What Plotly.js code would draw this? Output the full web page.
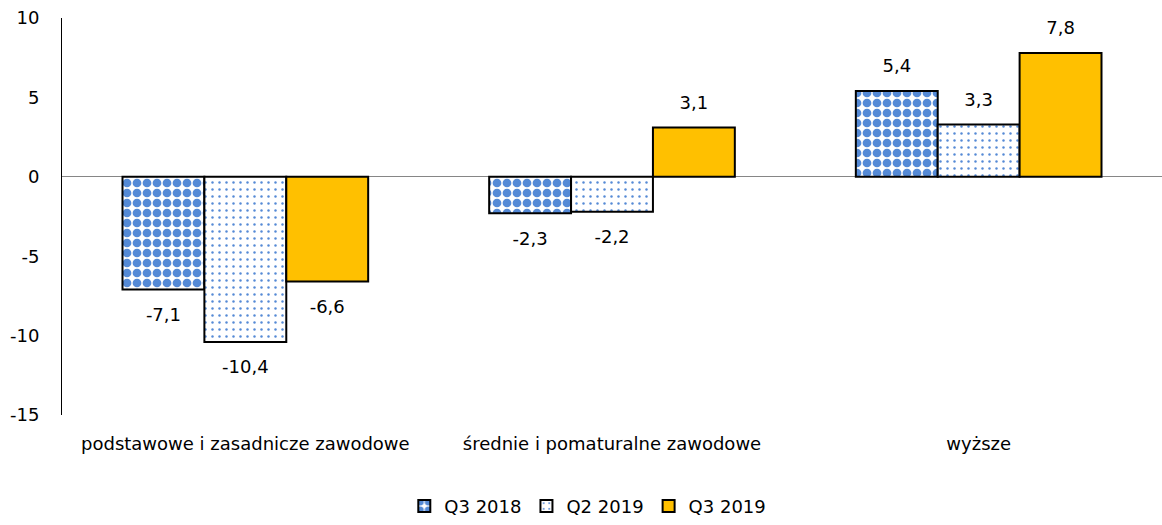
<!DOCTYPE html>
<html>
<head>
<meta charset="utf-8">
<script src="https://cdn.plot.ly/plotly-3.0.1.min.js"></script>
<style>html,body{margin:0;padding:0;background:#fff;}#chart{width:1162px;height:525px;}</style>
</head>
<body>
<div id="chart"></div>
<script>
const categories = ["podstawowe i zasadnicze zawodowe", "średnie i pomaturalne zawodowe", "wyższe"];
const seriesNames = ["Q3 2018", "Q2 2019", "Q3 2019"];
const q3_2018 = [-7.1, -2.3, 5.4];
const q2_2019 = [-10.4, -2.2, 3.3];
const q3_2019 = [-6.6, 3.1, 7.8];
const yTicks = [-15, -10, -5, 0, 5, 10];

const fontFam = "DejaVu Sans, Verdana, sans-serif";
const fmt = v => v.toFixed(1).replace('.', ',');
const line = {color: '#000', width: 2};
const blue = '#558ad6';

const seriesValues = [q3_2018, q2_2019, q3_2019];
const markers = [
  {color: '#ffffff', line: line,
    pattern: {shape: '.', fgcolor: blue, fgopacity: 1, bgcolor: '#ffffff', size: 10, solidity: 0.6, fillmode: 'replace'}},
  {color: '#ffffff', line: line,
    pattern: {shape: '.', fgcolor: blue, fgopacity: 1, bgcolor: '#ffffff', size: 7, solidity: 0.1, fillmode: 'replace'}},
  {color: '#ffc000', line: line}
];

const traces = [];
seriesValues.forEach((vals, i) => {
  traces.push({
    type: 'bar', name: seriesNames[i], x: categories, y: vals,
    marker: markers[i], hoverinfo: 'skip'
  });
});
// value labels, offset from bar ends through invisible markers
seriesValues.forEach((vals, i) => {
  traces.push({
    type: 'scatter', mode: 'markers+text', showlegend: false, hoverinfo: 'skip',
    x: categories, y: vals, cliponaxis: false,
    text: vals.map(fmt),
    textposition: vals.map(v => v >= 0 ? 'top center' : 'bottom center'),
    textfont: {family: fontFam, size: 18, color: '#000'},
    marker: {size: vals.map(v => v >= 0 ? 21 : 27), color: 'rgba(0,0,0,0)', line: {width: 0}}
  });
});

const layout = {
  width: 1162, height: 525,
  margin: {l: 62, r: 0, t: 18, b: 108},
  paper_bgcolor: '#fff', plot_bgcolor: '#fff',
  font: {family: fontFam, size: 18, color: '#000'},
  barmode: 'group', bargap: 0.33, bargroupgap: 0,
  scattermode: 'group', scattergap: 0.33,
  showlegend: true,
  legend: {orientation: 'h', x: 0.478, xanchor: 'center', y: -0.23, yanchor: 'middle',
    font: {family: fontFam, size: 18, color: '#000'}, itemwidth: 30, traceorder: 'normal'},
  xaxis: {type: 'category', showline: false, showgrid: false, zeroline: false, ticks: '',
    ticklabelstandoff: 16, tickfont: {family: fontFam, size: 18, color: '#000'}},
  yaxis: {range: [-15, 10], tickvals: yTicks, ticktext: yTicks.map(String), showgrid: false,
    zeroline: true, zerolinecolor: '#868686', zerolinewidth: 1,
    showline: true, linecolor: '#000', linewidth: 1, ticks: '',
    ticklabelstandoff: 18, tickfont: {family: fontFam, size: 18, color: '#000'}}
};

Plotly.newPlot('chart', traces, layout, {displayModeBar: false, staticPlot: true});
</script>
</body>
</html>
